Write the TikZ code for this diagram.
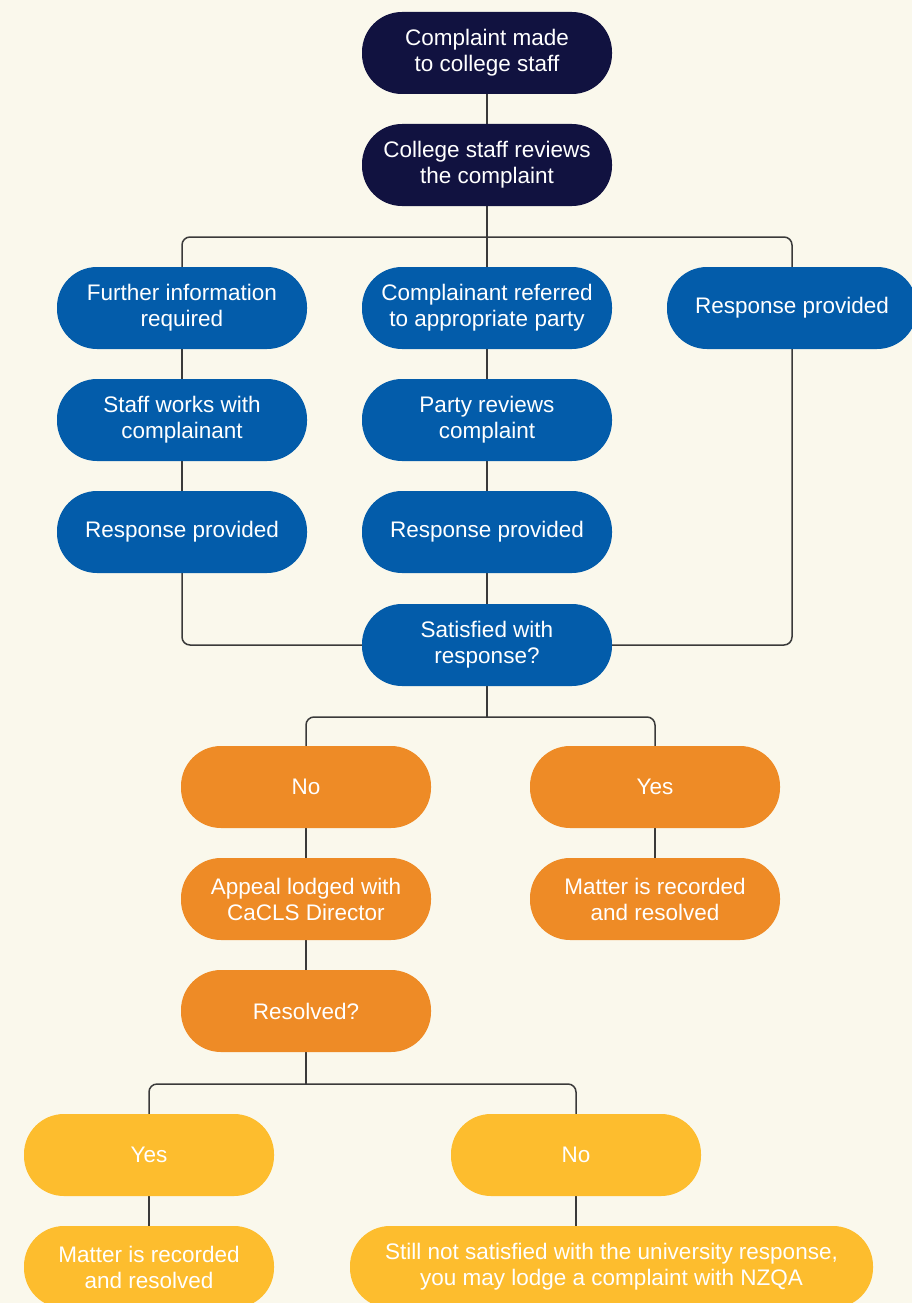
\documentclass[tikz,border=0pt]{standalone}
\usepackage{fontspec}
\setmainfont{Liberation Sans}
\usetikzlibrary{backgrounds}
\definecolor{bgc}{HTML}{FAF8EC}
\definecolor{navy}{HTML}{111240}
\definecolor{blu}{HTML}{035CAA}
\definecolor{ora}{HTML}{EE8B26}
\definecolor{yel}{HTML}{FDBD2E}
\definecolor{linec}{HTML}{3A3A3A}
\tikzset{
  box/.style={rectangle, rounded corners=40pt, minimum width=250pt, minimum height=82pt,
    inner sep=0pt, text=white, align=center,
    font=\fontsize{22.5pt}{26pt}\selectfont},
  navybox/.style={box, fill=navy},
  bluebox/.style={box, fill=blu},
  orabox/.style={box, fill=ora},
  yelbox/.style={box, fill=yel},
  conn/.style={draw=linec, line width=1.5pt, rounded corners=8pt},
}
\begin{document}
\begin{tikzpicture}[x=1pt, y=-1pt]
\useasboundingbox (0,0) rectangle (912,1303);
% nodes
\node[navybox] (n1) at (487,53) {Complaint made\\to college staff};
\node[navybox] (n2) at (487,165) {College staff reviews\\the complaint};
\node[bluebox] (a1) at (182,308) {Further information\\required};
\node[bluebox] (b1) at (487,308) {Complainant referred\\to appropriate party};
\node[bluebox] (c1) at (792,308) {Response provided};
\node[bluebox] (a2) at (182,420) {Staff works with\\complainant};
\node[bluebox] (b2) at (487,420) {Party reviews\\complaint};
\node[bluebox] (a3) at (182,532) {Response provided};
\node[bluebox] (b3) at (487,532) {Response provided};
\node[bluebox] (sat) at (487,645) {Satisfied with\\response?};
\node[orabox] (no1) at (306,787) {No};
\node[orabox] (yes1) at (655,787) {Yes};
\node[orabox] (app) at (306,899) {Appeal lodged with\\CaCLS Director};
\node[orabox] (rec1) at (655,899) {Matter is recorded\\and resolved};
\node[orabox] (res) at (306,1011) {Resolved?};
\node[yelbox] (yes2) at (149,1155) {Yes};
\node[yelbox] (no2) at (576,1155) {No};
\node[yelbox] (rec2) at (149,1267) {Matter is recorded\\and resolved};
\node[yelbox, minimum width=523pt] (nzqa) at (611.5,1267) {Still not satisfied with the university response,\\you may lodge a complaint with NZQA};
% branch points
\coordinate (j1) at (487,237);
\coordinate (j2) at (487,717);
\coordinate (j3) at (306,1084);
\begin{scope}[on background layer]
\fill[bgc] (0,0) rectangle (912,1303);
\draw[conn] (n1) -- (n2);
\draw[conn] (n2) -- (b1);
\draw[conn] (j1) -| (a1.north);
\draw[conn] (j1) -| (c1.north);
\draw[conn] (a1) -- (a2);
\draw[conn] (a2) -- (a3);
\draw[conn] (b1) -- (b2);
\draw[conn] (b2) -- (b3);
\draw[conn] (b3) -- (sat);
\draw[conn] (a3.south) |- (sat.west);
\draw[conn] (c1.south) |- (sat.east);
\draw[conn] (sat.south) -- (j2);
\draw[conn] (j2) -| (no1.north);
\draw[conn] (j2) -| (yes1.north);
\draw[conn] (no1) -- (app);
\draw[conn] (app) -- (res);
\draw[conn] (yes1) -- (rec1);
\draw[conn] (res.south) -- (j3);
\draw[conn] (j3) -| (yes2.north);
\draw[conn] (j3) -| (no2.north);
\draw[conn] (yes2) -- (rec2);
\draw[conn] (no2) -- (no2 |- nzqa.north);
\end{scope}
\end{tikzpicture}
\end{document}
